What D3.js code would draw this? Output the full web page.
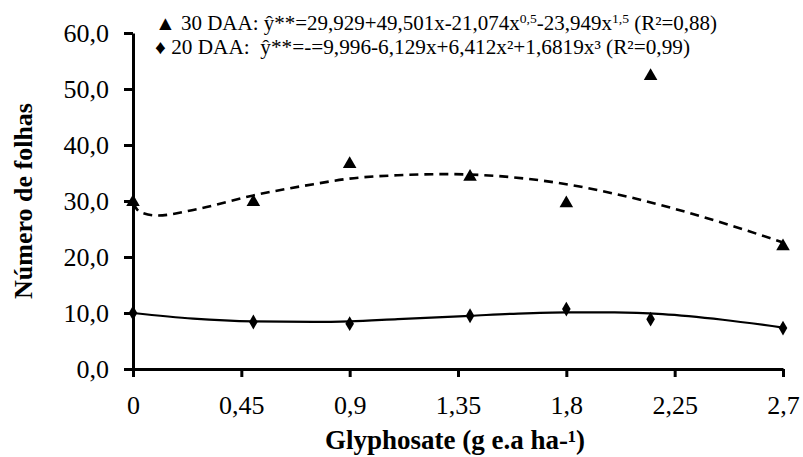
<!DOCTYPE html>
<html>
<head>
<meta charset="utf-8">
<script src="https://cdn.jsdelivr.net/npm/d3@7"></script>
<style>
  html, body { margin: 0; padding: 0; background: #fff; }
  svg { display: block; }
  svg text { font-family: "Liberation Serif", "Times New Roman", serif; }
</style>
</head>
<body>
<svg id="chart" width="803" height="457"></svg>
<script>
const FONT = '"Liberation Serif", "Times New Roman", serif';

// doses (g e.a ha-1)
const doses = [0, 0.5, 0.9, 1.4, 1.8, 2.15, 2.7];
const daa30 = [29.8, 29.8, 36.6, 34.3, 29.6, 52.3, 21.9];
const daa20 = [10.0, 8.4, 8.1, 9.5, 10.7, 8.9, 7.3];

// fitted curves
const fit30x = [0, 0.03, 0.1, 0.25, 0.5, 0.75, 0.9, 1.1, 1.3, 1.5, 1.8, 2.0, 2.25, 2.5, 2.7];
const fit30y = [29.6, 28.0, 27.4, 28.4, 31.0, 33.0, 34.0, 34.6, 34.8, 34.5, 33.0, 31.3, 28.6, 25.4, 22.6];
const fit20x = [0, 0.25, 0.5, 0.75, 0.9, 1.1, 1.4, 1.6, 1.8, 2.0, 2.2, 2.45, 2.7];
const fit20y = [10.0, 9.0, 8.5, 8.4, 8.5, 8.9, 9.5, 9.9, 10.1, 10.1, 9.8, 8.8, 7.4];

const xTicks = [0, 0.45, 0.9, 1.35, 1.8, 2.25, 2.7];
const yTicks = [0, 10, 20, 30, 40, 50, 60];

const svg = d3.select('#chart');
const x = d3.scaleLinear().domain([0, 2.7]).range([133, 783]);
const y = d3.scaleLinear().domain([0, 60]).range([369, 33]);
const comma = (v) => String(v).replace('.', ',');

// axes
const xAxis = svg.append('g').attr('transform', `translate(0,${y(0)})`)
  .call(d3.axisBottom(x).tickValues(xTicks).tickSize(8).tickSizeOuter(0).tickFormat(comma));
const yAxis = svg.append('g').attr('transform', `translate(${x(0)},0)`)
  .call(d3.axisLeft(y).tickValues(yTicks).tickSize(9).tickSizeOuter(0).tickFormat((d) => d3.format('.1f')(d).replace('.', ',')));

[xAxis, yAxis].forEach((g) => {
  g.attr('font-family', FONT).attr('font-size', 26);
  g.select('.domain').attr('stroke', '#000').attr('stroke-width', 3);
  g.selectAll('.tick line').attr('stroke', '#000').attr('stroke-width', 3);
  g.selectAll('.tick text').attr('fill', '#000').attr('font-size', 26).attr('font-family', FONT);
});
xAxis.selectAll('.tick text').attr('dy', null).attr('y', 45);
yAxis.selectAll('.tick text').attr('x', -24).attr('dy', '0.34em');

// curves
const line = d3.line().x((d) => x(d[0])).y((d) => y(d[1])).curve(d3.curveMonotoneX);
svg.append('path')
  .datum(d3.zip(fit30x, fit30y))
  .attr('d', line)
  .attr('fill', 'none').attr('stroke', '#000').attr('stroke-width', 2.6)
  .attr('stroke-dasharray', '9,6');
svg.append('path')
  .datum(d3.zip(fit20x, fit20y))
  .attr('d', line)
  .attr('fill', 'none').attr('stroke', '#000').attr('stroke-width', 2.2);

// markers
const tri = d3.symbol().type(d3.symbolTriangle).size(80);
const dia = d3.symbol().type(d3.symbolDiamond).size(64);
svg.append('g').selectAll('path')
  .data(d3.zip(doses, daa30))
  .join('path')
  .attr('d', tri)
  .attr('transform', (d) => `translate(${x(d[0])},${y(d[1])})`)
  .attr('fill', '#000');
svg.append('g').selectAll('path')
  .data(d3.zip(doses, daa20))
  .join('path')
  .attr('d', dia)
  .attr('transform', (d) => `translate(${x(d[0])},${y(d[1])})`)
  .attr('fill', '#000');

// legend with equations
function eq(yPos, width, parts) {
  const t = svg.append('text').attr('x', 155).attr('y', yPos)
    .attr('font-size', 20).attr('font-family', FONT).attr('fill', '#000')
    .attr('xml:space', 'preserve')
    .attr('textLength', width).attr('lengthAdjust', 'spacingAndGlyphs');
  let raised = false;
  parts.forEach((p) => {
    if (typeof p === 'string') {
      const s = t.append('tspan').text(p);
      if (raised) s.attr('dy', 7);
      raised = false;
    } else {
      t.append('tspan').attr('font-size', 13).attr('dy', -7).text(p.sup);
      raised = true;
    }
  });
}
eq(30, 562, ['▲ 30 DAA: ŷ**=29,929+49,501x-21,074x', { sup: '0,5' }, '-23,949x', { sup: '1,5' }, ' (R²=0,88)']);
eq(54, 535, ['♦ 20 DAA:  ŷ**=-=9,996-6,129x+6,412x²+1,6819x³ (R²=0,99)']);

// axis titles
svg.append('text')
  .attr('x', 455).attr('y', 449)
  .attr('text-anchor', 'middle')
  .attr('font-family', FONT)
  .attr('font-size', 27).attr('font-weight', 'bold')
  .text('Glyphosate (g e.a ha-¹)');
svg.append('text')
  .attr('transform', `translate(32,${(y(0) + y(60)) / 2}) rotate(-90)`)
  .attr('text-anchor', 'middle')
  .attr('font-family', FONT)
  .attr('font-size', 26).attr('font-weight', 'bold')
  .text('Número de folhas');
</script>
</body>
</html>
